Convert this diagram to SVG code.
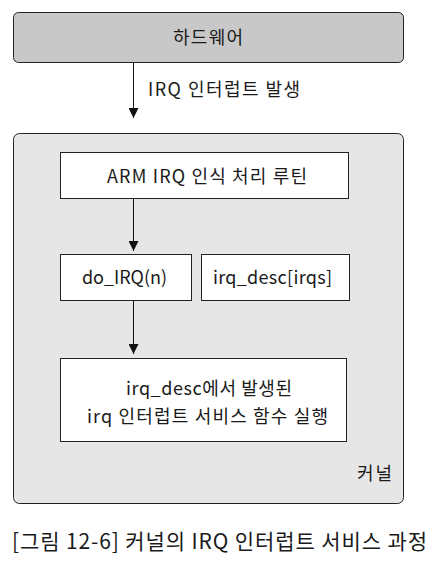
<svg xmlns="http://www.w3.org/2000/svg" width="442" height="566" viewBox="0 0 442 566">
<defs>
<style>
text{font-family:"Noto Sans CJK KR","Liberation Sans",sans-serif;fill:#1a1a1a;font-size:18px;}
.box{fill:#fff;stroke:#222;stroke-width:1;}
.edge{stroke:#111;stroke-width:1;fill:none;marker-end:url(#arr);}
</style>
<marker id="arr" viewBox="0 0 10 10" refX="10" refY="5" markerWidth="10" markerHeight="10" markerUnits="userSpaceOnUse" orient="auto">
<path d="M0,0 L10,5 L0,10 z" fill="#111"/>
</marker>
</defs>
<rect width="442" height="566" fill="#fff"/>
<g id="hardware">
<rect x="13.5" y="12.5" width="390" height="50" rx="5" fill="#c8c8c8" stroke="#222"/>
<text x="173" y="44" textLength="70" lengthAdjust="spacing">하드웨어</text>
</g>
<g id="kernel">
<rect x="13.5" y="133.5" width="390" height="370" rx="6" fill="#e6e6e6" stroke="#222"/>
<text x="357" y="480" textLength="35" lengthAdjust="spacing">커널</text>
</g>
<g id="arm">
<rect class="box" x="60.5" y="152.5" width="288" height="46"/>
<text x="107" y="183" textLength="200" lengthAdjust="spacing">ARM IRQ 인식 처리 루틴</text>
</g>
<g id="doirq">
<rect class="box" x="60.5" y="254.5" width="131" height="46"/>
<text x="82" y="284" textLength="85" lengthAdjust="spacing">do_IRQ(n)</text>
</g>
<g id="irqdesc">
<rect class="box" x="201.5" y="254.5" width="148" height="46"/>
<text x="213" y="284" textLength="119" lengthAdjust="spacing">irq_desc[irqs]</text>
</g>
<g id="service">
<rect class="box" x="60.5" y="358.5" width="286" height="83"/>
<text x="126" y="395" textLength="166" lengthAdjust="spacing">irq_desc에서 발생된</text>
<text x="87" y="423" textLength="241" lengthAdjust="spacing">irq 인터럽트 서비스 함수 실행</text>
</g>
<g id="connectors">
<line class="edge" x1="133.5" y1="63" x2="133.5" y2="118"/>
<text x="148" y="96" textLength="152" lengthAdjust="spacing">IRQ 인터럽트 발생</text>
<line class="edge" x1="133.5" y1="199" x2="133.5" y2="251"/>
<line class="edge" x1="133.5" y1="301" x2="133.5" y2="354"/>
</g>
<text x="12" y="549" style="font-size:21px" textLength="415" lengthAdjust="spacing">[그림 12-6] 커널의 IRQ 인터럽트 서비스 과정</text>
</svg>
